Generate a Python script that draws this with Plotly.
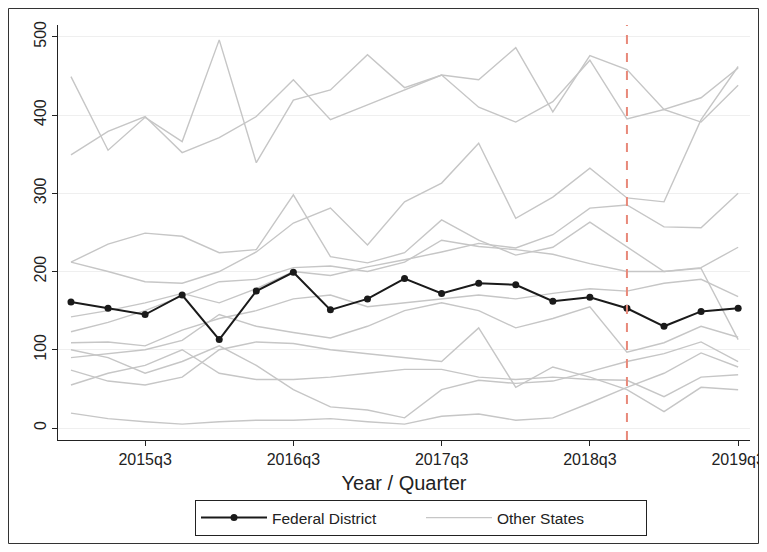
import plotly.graph_objects as go

quarters = ["2015q1","2015q2","2015q3","2015q4","2016q1","2016q2","2016q3","2016q4",
            "2017q1","2017q2","2017q3","2017q4","2018q1","2018q2","2018q3","2018q4",
            "2019q1","2019q2","2019q3"]
tick_labels = ["2015q3","2016q3","2017q3","2018q3","2019q3"]
event_quarter = "2018q4"

federal_district = [161,153,145,170,113,175,199,151,165,191,172,185,183,162,167,153,130,149,153]

state_01 = [449,355,397,366,496,339,419,432,477,435,451,410,391,417,470,395,407,391,438]
state_02 = [349,379,398,352,371,398,445,394,413,432,451,445,486,404,476,458,407,422,460]
state_03 = [212,200,187,185,200,225,262,281,234,289,313,364,268,295,332,294,289,394,462]
state_04 = [212,235,249,245,224,228,298,219,211,224,266,240,221,231,263,231,200,204,113]
state_05 = [142,150,160,172,160,178,200,195,206,215,225,236,230,247,281,285,257,256,300]
state_06 = [123,135,150,168,187,190,205,207,200,212,240,232,228,222,210,200,200,205,231]
state_07 = [109,110,105,125,140,150,165,170,155,160,165,170,165,172,178,175,185,190,168]
state_08 = [90,95,100,112,145,130,122,115,130,150,160,150,128,140,155,97,109,130,116]
state_09 = [74,60,55,65,100,110,108,100,95,90,85,128,52,78,65,49,21,52,49]
state_10 = [55,70,80,100,70,62,62,65,70,75,75,65,62,65,62,61,40,65,68]
state_11 = [100,90,70,85,105,80,49,27,23,13,49,61,57,60,72,85,95,110,85]
state_12 = [19,12,8,5,8,10,10,12,8,5,15,18,10,13,32,52,70,96,78]

other_states = [state_01, state_02, state_03, state_04, state_05, state_06,
                state_07, state_08, state_09, state_10, state_11, state_12]

fig = go.Figure()
for k, s in enumerate(other_states):
    fig.add_trace(go.Scatter(
        x=quarters, y=s, mode="lines",
        line=dict(color="#c6c6c6", width=1.4),
        name="Other States", legendgroup="other",
        showlegend=(k == 0), legendrank=2, hoverinfo="skip"))

fig.add_trace(go.Scatter(
    x=quarters, y=federal_district, mode="lines+markers",
    line=dict(color="#1a1a1a", width=2),
    marker=dict(color="#1a1a1a", size=7, symbol="circle"),
    name="Federal District", legendrank=1))

# page pixel -> paper coordinate helpers (page has an 8px body margin)
W, H = 759, 536
PW, PH = 692, 415
def px_x(p): return (p - 58) / PW
def px_y(p): return (440 - p) / PH
def cx(p): return (p - 8) / W
def cy(p): return 1 - (p - 8) / H

fig.add_shape(type="line", xref="x", yref="paper", x0=event_quarter, x1=event_quarter,
              y0=0, y1=1, line=dict(color="#e8897a", width=2, dash="dash"))

fig.add_shape(type="rect", xref="paper", yref="paper",
              x0=px_x(8.5), x1=px_x(758.5), y0=px_y(543.5), y1=px_y(8.5),
              line=dict(color="#333333", width=1), fillcolor="rgba(0,0,0,0)", layer="below")

fig.update_layout(
    width=W, height=H,
    margin=dict(l=50, r=17, t=17, b=104),
    paper_bgcolor="white", plot_bgcolor="white",
    font=dict(family="Liberation Sans, Arial, sans-serif", color="#222222"),
    legend=dict(orientation="h", xref="container", yref="container",
                x=cx(421), xanchor="center", y=cy(500), yanchor="top",
                bordercolor="#222222", borderwidth=1, font=dict(size=15.5),
                itemwidth=66, entrywidth=144, traceorder="normal"),
    showlegend=True,
)
fig.update_xaxes(type="category", range=[-0.35, 18.32], automargin=False,
                 tickmode="array", tickvals=tick_labels, ticktext=tick_labels,
                 ticks="outside", ticklen=5, tickcolor="#222222",
                 showline=True, linecolor="#222222", linewidth=1,
                 showgrid=False, zeroline=False,
                 tickfont=dict(size=16),
                 title=dict(text="Year / Quarter", font=dict(size=20), standoff=8))
fig.update_yaxes(range=[-15.3, 515], tickvals=[0,100,200,300,400,500], automargin=False,
                 ticks="outside", ticklen=5, tickcolor="#222222", tickangle=-90,
                 showline=True, linecolor="#222222", linewidth=1,
                 showgrid=True, gridcolor="#efefef", gridwidth=1, zeroline=False,
                 tickfont=dict(size=16))

fig.write_html("out.html")
